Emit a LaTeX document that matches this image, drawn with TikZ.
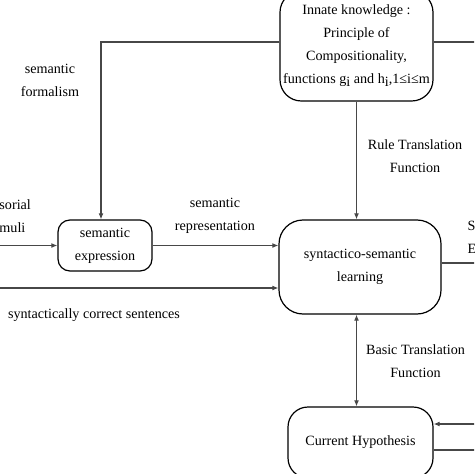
\documentclass[tikz,border=0pt]{standalone}
\usepackage{fontspec}
\setmainfont{Liberation Serif}
\usetikzlibrary{arrows.meta}

\tikzset{every picture/.style={line width=0.75pt}}
\tikzset{
  box/.style={draw=black, line width=0.9pt, inner sep=0pt, align=center},
  flow/.style={draw=black!72, line width=0.8pt},
  tip/.style={-{Latex[length=4.5pt,width=3.6pt]}},
  twotip/.style={{Latex[length=4.5pt,width=3.6pt]}-{Latex[length=4.5pt,width=3.6pt]}},
  lbl/.style={align=center, inner sep=0pt}
}

\begin{document}
\begin{tikzpicture}[x=0.75pt,y=0.75pt,yscale=-1,xscale=1]
	\fontsize{10.6}{17.25}\selectfont
	\useasboundingbox (0,0) rectangle (474,474);
	\clip (0,0) rectangle (474,474);

	%Shape: Rounded Rect [id:innate]
	\node (innate) [box, rounded corners=16pt, minimum width=114.75pt, minimum height=82.5pt] at (356.5,46) {Innate knowledge :\\Principle of\\Compositionality,\\functions g\raisebox{-0.35ex}{i} and h\raisebox{-0.35ex}{i},1≤i≤m};
	%Shape: Rounded Rect [id:semexp]
	\node (semexp) [box, rounded corners=9pt, minimum width=70.5pt, minimum height=38.25pt] at (105,245.5) {semantic\\expression};
	%Shape: Rounded Rect [id:synsem]
	\node (synsem) [box, rounded corners=18pt, minimum width=121.5pt, minimum height=70.5pt] at (360,267) {syntactico-semantic\\learning};
	%Shape: Rounded Rect [id:hyp]
	\node (hyp) [box, rounded corners=15pt, minimum width=108.75pt, minimum height=53.25pt] at (360.5,442.5) {Current Hypothesis};

	% Free ends at the edges
	\coordinate (outK) at (476,42);
	\coordinate (stim) at (-2,245.5);
	\coordinate (sent) at (-2,288);
	\coordinate (outS) at (476,263);
	\coordinate (inH) at (476,424);
	\coordinate (outH) at (476,450);

	%Straight Lines
	\draw [flow, tip] (innate.west |- outK) -| ([xshift=-3pt]semexp.north);
	\draw [flow] (innate.east |- outK) -- (outK);
	\draw [flow, tip] (innate.south) -- (innate.south |- synsem.north);
	\draw [flow, tip] (stim) -- (semexp.west);
	\draw [flow, tip] (semexp.east) -- (semexp.east -| synsem.west);
	\draw [flow, tip] (sent) -- (sent -| synsem.west);
	\draw [flow] (synsem.east |- outS) -- (outS);
	\draw [flow, twotip] (innate.south |- synsem.south) -- (innate.south |- hyp.north);
	\draw [flow, tip] (inH) -- (inH -| hyp.east);
	\draw [flow] (hyp.east |- outH) -- (outH);

	% Text Node
	\node (formal) [lbl] at (50,80.5) {semantic\\formalism};
	% Text Node
	\node (rule) [lbl] at (415,156.5) {Rule Translation\\Function};
	% Text Node
	\node (stimtxt) [lbl, align=left, anchor=west] at (-1,216) {sorial\\muli};
	% Text Node
	\node (reptxt) [lbl] at (215,216) {semantic\\representation};
	% Text Node
	\node (senttxt) [lbl] at (94,315) {syntactically correct sentences};
	% Text Node
	\node (outtxt) [lbl, align=left, anchor=west] at (467,237.5) {S\\E};
	% Text Node
	\node (basic) [lbl] at (415.5,361) {Basic Translation\\Function};

\end{tikzpicture}
\end{document}
